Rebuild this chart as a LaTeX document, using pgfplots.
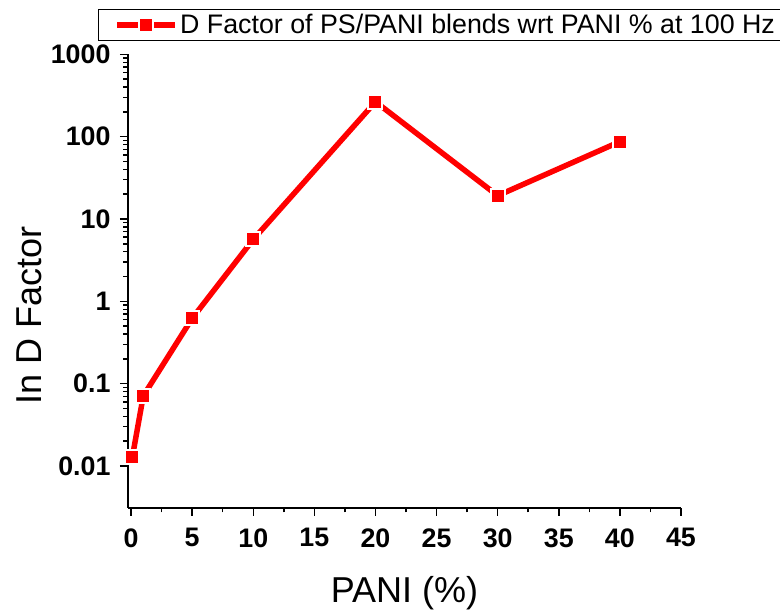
\documentclass[border=0pt]{standalone}
\usepackage{pgfplots}
\pgfplotsset{compat=1.18}
\usepackage{fontspec}
\setmainfont{Liberation Sans}

% D factor of PS/PANI blends against PANI content, measured at 100 Hz
\pgfplotstableread{
pani  dfactor
0.1   0.0127
1     0.071
5     0.62
10    5.65
20    265
30    19.2
40    87
}\dfactordata

\begin{document}
\begin{tikzpicture}
\path[use as bounding box] (0,0) rectangle (780pt,610pt);
\clip (0,0) rectangle (780pt,610pt);
\begin{axis}[
  at={(128pt,102pt)}, anchor=south west,
  scale only axis, width=553pt, height=453.7pt,
  ymode=log,
  xmin=-0.25, xmax=45,
  ymin=0.00309, ymax=1000,
  axis lines*=left,
  axis line style={line width=1.5pt},
  every tick/.style={black, line width=1.5pt},
  tick align=outside,
  major tick length=8pt, minor tick length=4.5pt,
  xtick={0,5,...,45},
  minor x tick num=1,
  ytick={0.01,0.1,1,10,100,1000},
  yticklabels={0.01,0.1,1,10,100,1000},
  /pgf/number format/assume math mode=true,
  tick label style={font=\fontsize{26.8}{31}\selectfont\bfseries},
  xticklabel style={yshift=-9pt},
  yticklabel style={xshift=-6pt},
  xlabel={PANI (\%)},
  ylabel={In D Factor},
  label style={font=\fontsize{36}{42}\selectfont},
  xlabel style={at={(axis description cs:0.5,-0.209)}, anchor=base},
  ylabel style={at={(axis description cs:-0.179,0.425)}, anchor=center},
  legend style={
    at={(axis description cs:-0.054,1.0998)}, anchor=north west,
    draw=black, line width=1pt,
    font=\fontsize{26.8}{31}\selectfont,
    inner xsep=16pt, inner ysep=3pt,
  },
  legend image code/.code={%
    \draw[#1, mark repeat=2, mark phase=2]
      plot coordinates {(0pt,0pt) (29pt,0pt) (58pt,0pt)};%
  },
]
\addplot[
  red, line width=5.5pt,
  mark=square*, mark size=7pt,
  mark options={fill=red, draw=white, line width=2pt},
] table[x=pani, y=dfactor] {\dfactordata};
\addlegendentry{D Factor of PS/PANI blends wrt PANI \% at 100 Hz}
\end{axis}
\end{tikzpicture}
\end{document}
